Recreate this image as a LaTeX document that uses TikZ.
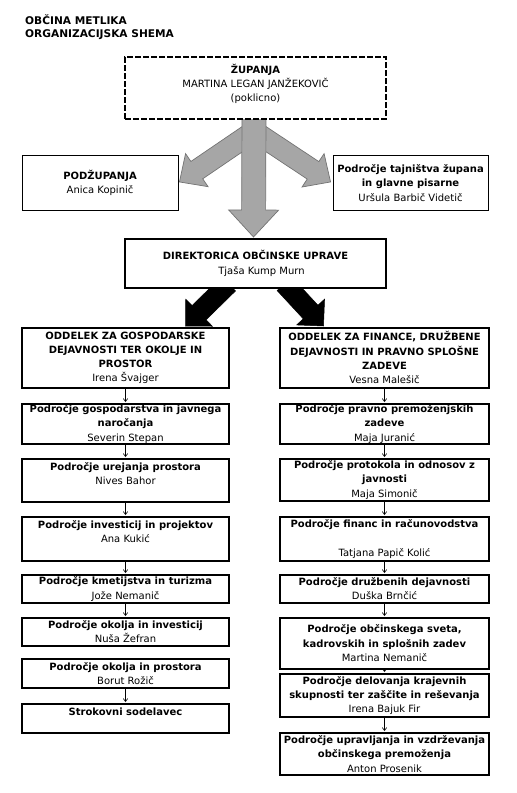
\documentclass[tikz,border=0pt]{standalone}
\usepackage{fontspec}
\setmainfont{DejaVu Sans}
\usetikzlibrary{calc,arrows.meta,backgrounds}
\definecolor{arrgray}{RGB}{166,166,166}
\definecolor{arredge}{RGB}{115,115,115}
\newcommand\tfs{\fontsize{10}{14.3}\selectfont}
% block arrow from #1 to #2: shaft half width #3, head half width #4, head length #5, style #6
\newcommand\blockarr[6]{%
  \path ($(#2)!#5!(#1)$) coordinate (bh);
  \draw[#6] ($(#1)!#3!90:(#2)$) -- ($(bh)!#3!-90:(#1)$) -- ($(bh)!#4!-90:(#1)$) -- (#2)
    -- ($(bh)!#4!90:(#1)$) -- ($(bh)!#3!90:(#1)$) -- ($(#1)!#3!-90:(#2)$) -- cycle;}
\begin{document}
\begin{tikzpicture}[x=1pt,y=-1pt,
  base/.style={fill=white, inner sep=0pt, align=center, font=\tfs, anchor=north},
  box/.style={base, draw, line width=1.7pt},
  thinbox/.style={base, draw, line width=0.9pt},
  dashbox/.style={base, draw, line width=2.2pt, dash pattern=on 6pt off 2pt},
  lbox/.style={box, minimum width=207pt},
  rbox/.style={box, minimum width=209pt},
  small/.style={line width=0.6pt, -{Straight Barb[length=3pt,width=4.5pt]}, shorten >=1pt},
  grayarr/.style={fill=arrgray, draw=arredge, line width=0.7pt, line join=miter},
  blackarr/.style={fill=black, draw=black, line width=0.5pt, line join=miter}]
\useasboundingbox (0,0) rectangle (517,793);

\node[anchor=north west, inner sep=0pt, align=left, font=\fontsize{10.6}{13.5}\selectfont\bfseries] (title) at (25,14)
  {OBČINA METLIKA\\ORGANIZACIJSKA SHEMA};

\node[dashbox, minimum width=261pt, minimum height=62pt] (zup) at (255.5,56)
  {\textbf{ŽUPANJA}\\MARTINA LEGAN JANŽEKOVIČ\\(poklicno)\\[-4pt]~};
\node[thinbox, minimum width=156pt, minimum height=55pt] (podz) at (100,155)
  {\textbf{PODŽUPANJA}\\Anica Kopinič};
\node[thinbox, minimum width=155pt, minimum height=55pt] (tajn) at (410.5,155)
  {\textbf{Področje tajništva župana}\\\textbf{in glavne pisarne}\\Uršula Barbič Videtič};
\node[box, line width=1.8pt, minimum width=261pt, minimum height=49pt] (dir) at (255.5,238)
  {\textbf{DIREKTORICA OBČINSKE UPRAVE}\\\hspace*{12pt}Tjaša Kump Murn};

% left column
\node[lbox, minimum height=60pt] (l1) at (125.5,327)
  {\textbf{ODDELEK ZA GOSPODARSKE}\\\textbf{DEJAVNOSTI TER OKOLJE IN}\\\textbf{PROSTOR}\\Irena Švajger};
\node[lbox, minimum height=40pt] (l2) at (125.5,403)
  {\textbf{Področje gospodarstva in javnega}\\\textbf{naročanja}\\Severin Stepan};
\node[lbox, minimum height=43pt] (l3) at (125.5,458)
  {\textbf{Področje urejanja prostora}\\Nives Bahor\\~};
\node[lbox, minimum height=44pt] (l4) at (125.5,516)
  {\textbf{Področje investicij in projektov}\\Ana Kukić\\~};
\node[lbox, minimum height=28pt] (l5) at (125.5,574)
  {\textbf{Področje kmetijstva in turizma}\\Jože Nemanič};
\node[lbox, minimum height=28pt] (l6) at (125.5,617)
  {\textbf{Področje okolja in investicij}\\Nuša Žefran};
\node[lbox, minimum height=29pt] (l7) at (125.5,658)
  {\textbf{Področje okolja in prostora}\\Borut Rožič};
\node[lbox, minimum height=29pt] (l8) at (125.5,703)
  {\textbf{Strokovni sodelavec}\\~};

% right column
\node[rbox, minimum height=60pt] (r1) at (384.5,327)
  {\textbf{ODDELEK ZA FINANCE, DRUŽBENE}\\\textbf{DEJAVNOSTI IN PRAVNO SPLOŠNE}\\\textbf{ZADEVE}\\Vesna Malešič};
\node[rbox, minimum height=40pt] (r2) at (384.5,403)
  {\textbf{Področje pravno premoženjskih}\\\textbf{zadeve}\\Maja Juranić};
\node[rbox, minimum height=42pt] (r3) at (384.5,458)
  {\textbf{Področje protokola in odnosov z}\\\textbf{javnosti}\\Maja Simonič};
\node[rbox, minimum height=44pt] (r4) at (384.5,516)
  {\textbf{Področje financ in računovodstva}\\~\\Tatjana Papič Kolić};
\node[rbox, minimum height=28pt] (r5) at (384.5,574)
  {\textbf{Področje družbenih dejavnosti}\\Duška Brnčić};
\node[rbox, minimum height=51pt] (r6) at (384.5,617)
  {\textbf{Področje občinskega sveta,}\\\textbf{kadrovskih in splošnih zadev}\\Martina Nemanič};
\node[rbox, minimum height=43pt] (r7) at (384.5,673)
  {\textbf{Področje delovanja krajevnih}\\\textbf{skupnosti ter zaščite in reševanja}\\Irena Bajuk Fir};
\node[rbox, minimum height=42pt] (r8) at (384.5,732)
  {\textbf{Področje upravljanja in vzdrževanja}\\\textbf{občinskega premoženja}\\Anton Prosenik};

\begin{pgfonlayer}{background}
  \coordinate (gs) at ($(zup.south)+(-1.5,11)$);
  \coordinate (gv) at ($(zup.south)+(-1.5,-4)$);
  \coordinate (gt) at ($(dir.north)+(-2,-1)$);
  \coordinate (gl) at ($(podz.east)+(1,-1)$);
  \coordinate (gr) at ($(tajn.west)+(-2,-1)$);
  \blockarr{gs}{gl}{10.5pt}{20pt}{21pt}{grayarr}
  \blockarr{gs}{gr}{10.5pt}{20pt}{21pt}{grayarr}
  \blockarr{gv}{gt}{12pt}{25pt}{27pt}{grayarr}
  \coordinate (bls) at ($(dir.south)+(-27,-5)$);
  \coordinate (brs) at ($(dir.south)+(29,-5)$);
  \coordinate (blt) at ($(l1.north)+(60,-1)$);
  \coordinate (brt) at ($(r1.north)+(-61,-1)$);
  \blockarr{bls}{blt}{10pt}{19pt}{19pt}{blackarr}
  \blockarr{brs}{brt}{10pt}{19pt}{19pt}{blackarr}
\end{pgfonlayer}

\foreach \a/\b in {l1/l2,l2/l3,l3/l4,l4/l5,l5/l6,l7/l8,r1/r2,r2/r3,r3/r4,r4/r5,r5/r6,r6/r7,r7/r8}
  \draw[small] (\a.south) -- (\b.north);
\end{tikzpicture}
\end{document}
